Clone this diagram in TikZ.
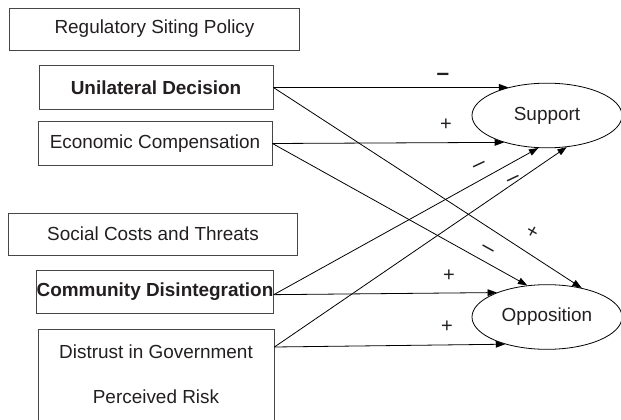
\documentclass[tikz,border=0pt]{standalone}
\usepackage{fontspec}
\setmainfont{Liberation Sans}
\usepackage{tikz}
\usepackage{xcolor}
\usetikzlibrary{shapes.geometric, arrows.meta, positioning, calc}

\definecolor{boxline}{RGB}{70,70,70}
\definecolor{ink}{RGB}{35,31,32}

\begin{document}
\begin{tikzpicture}[x=0.75pt, y=-0.75pt, font=\fontsize{14.2}{16}\selectfont, text=ink]
		% Define styles for boxes, outcomes and arrows
		\tikzstyle{factor} = [rectangle, draw=boxline, line width=0.65pt, inner sep=0pt, text centered, minimum width=175.5pt, minimum height=32.5pt]
		\tikzstyle{group} = [factor, minimum width=217pt, minimum height=31.5pt]
		\tikzstyle{outcome} = [ellipse, draw=black, line width=0.6pt, inner sep=0pt, minimum width=112.5pt, minimum height=48.5pt]
		\tikzstyle{arrow} = [line width=0.6pt, -{Triangle[length=7pt, width=5pt]}]
		\tikzstyle{sign} = [inner sep=0pt, font=\fontsize{15}{15}\selectfont]
		\tikzstyle{slant} = [sign, font=\fontsize{17}{17}\selectfont]
		
		\useasboundingbox (0,0) rectangle (621,420);
		
		% Regulatory siting policy
		\node[group] (reg) at (154.5,29) {Regulatory Siting Policy};
		\node[factor] (ud) at (156,87.5) {\bfseries Unilateral Decision};
		\node[factor] (ec) at (155,143.5) {Economic Compensation};
		
		% Social costs and threats
		\node[group] (soc) at (153,234) {Social Costs and Threats};
		\node[factor] (cd) at (155,292) {\bfseries Community Disintegration};
		\node[factor, minimum width=177pt, minimum height=84pt] (dbox) at (156,385) {};
		\node (dt) at (156,352) {Distrust in Government};
		\node (pr) at (156,397) {Perceived Risk};
		\coordinate (dout) at (dbox.east |- 0,347);
		
		% Outcomes
		\node[outcome] (sup) at (547,115.5) {Support};
		\node[outcome] (opp) at (547,317) {Opposition};
		
		% Paths to support
		\draw [arrow] (ud.east) -- (sup.144);
		\draw [arrow] (ec.east) -- (sup.212);
		\draw [arrow] ([yshift=-2pt]cd.east) -- (sup.255);
		\draw [arrow] (dout) -- (sup.302);
		
		% Paths to opposition
		\draw [arrow] (ud.east) -- (opp.40);
		\draw [arrow] (ec.east) -- (opp.122);
		\draw [arrow] ([yshift=-2pt]cd.east) -- (opp.154);
		\draw [arrow] (dout) -- (opp.213);
		
		% Signs of the effects
		\node[sign, font=\fontsize{17}{17}\bfseries] (s1) at (443,77) {--};
		\node[sign] (s2) at (446,125) {+};
		\node[slant, rotate=25] (s3) at (480,167) {--};
		\node[slant, rotate=25] (s4) at (514,181) {--};
		\node[sign, rotate=-30] (s5) at (532,232) {+};
		\node[slant, rotate=-29] (s6) at (487,251) {--};
		\node[sign] (s7) at (449,276) {+};
		\node[sign] (s8) at (447,327) {+};
	
	\end{tikzpicture}
\end{document}
